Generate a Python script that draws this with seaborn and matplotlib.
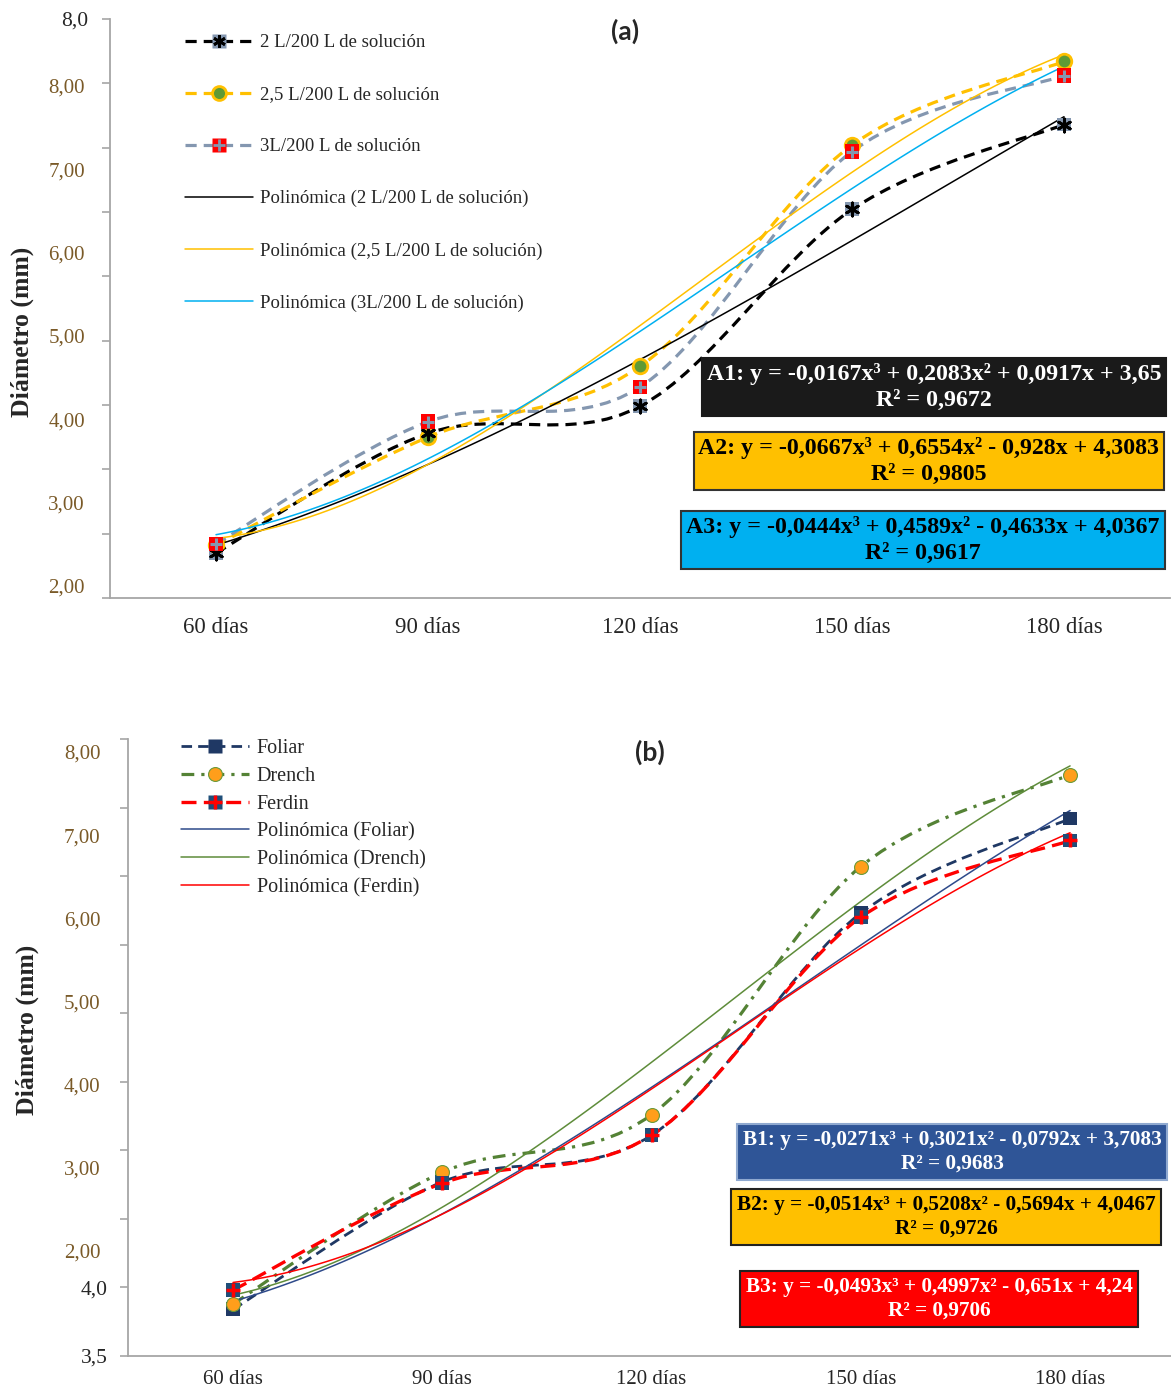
import numpy as np
import pandas as pd
import seaborn as sns
import matplotlib
matplotlib.use("Agg")
import matplotlib.pyplot as plt
from matplotlib.path import Path
from matplotlib.patches import PathPatch
from matplotlib.lines import Line2D

# ---- data (true axis 3,5 - 8,0) ----
days = ["60 días", "90 días", "120 días", "150 días", "180 días"]
sol_2 = [3.85, 4.78, 4.99, 6.52, 7.18]
sol_25 = [3.91, 4.75, 5.30, 7.02, 7.67]
sol_3 = [3.92, 4.87, 5.14, 6.97, 7.56]
foliar = [3.84, 4.77, 5.11, 6.73, 7.42]
drench = [3.88, 4.84, 5.26, 7.07, 7.74]
ferdin = [3.98, 4.76, 5.11, 6.70, 7.26]

names_a = ["2 L/200 L de solución", "2,5 L/200 L de solución", "3L/200 L de solución"]
names_b = ["Foliar", "Drench", "Ferdin"]

# labels pasted over the real axis in the original
fake_ticks = [2, 3, 4, 5, 6, 7, 8]
fake_labels = ["2,00", "3,00", "4,00", "5,00", "6,00", "7,00", "8,00"]
real_ticks = [3.5, 4.0, 4.5, 5.0, 5.5, 6.0, 6.5, 7.0, 7.5, 8.0]

eq_a = ["A1: y = -0,0167x³ + 0,2083x² + 0,0917x + 3,65\nR² = 0,9672",
        "A2: y = -0,0667x³ + 0,6554x² - 0,928x + 4,3083\nR² = 0,9805",
        "A3: y = -0,0444x³ + 0,4589x² - 0,4633x + 4,0367\nR² = 0,9617"]
eq_b = ["B1: y = -0,0271x³ + 0,3021x² - 0,0792x + 3,7083\nR² = 0,9683",
        "B2: y = -0,0514x³ + 0,5208x² - 0,5694x + 4,0467\nR² = 0,9726",
        "B3: y = -0,0493x³ + 0,4997x² - 0,651x + 4,24\nR² = 0,9706"]

df_a = pd.DataFrame({"pos": range(5), names_a[0]: sol_2, names_a[1]: sol_25, names_a[2]: sol_3})
df_b = pd.DataFrame({"pos": range(5), "Foliar": foliar, "Drench": drench, "Ferdin": ferdin})

sns.set_style("white")
plt.rcParams["font.family"] = ["Liberation Serif", "DejaVu Serif"]

W, H = 1171, 1392
fig = plt.figure(figsize=(W / 100, H / 100), dpi=100)
GREY = "#a6a6a6"


def smooth(ax, x, y, color, ls, lw, z=2):
    # excel-like smoothed line (catmull-rom as bezier) through the points
    p = np.column_stack([x, y]).astype(float)
    n = len(p)
    verts, codes = [p[0]], [Path.MOVETO]
    for i in range(n - 1):
        p0 = p[i - 1] if i > 0 else p[i]
        p3 = p[i + 2] if i + 2 < n else p[i + 1]
        verts += [p[i] + (p[i + 1] - p0) / 6, p[i + 1] - (p3 - p[i]) / 6, p[i + 1]]
        codes += [Path.CURVE4] * 3
    ax.add_patch(PathPatch(Path(verts, codes), fill=False, edgecolor=color,
                           linestyle=ls, lw=lw, zorder=z, capstyle="butt"))


def base_axes(rect, fake_lim, real_lab, fsz_x, pad_x, pad_real, pad_fake):
    ax = fig.add_axes(rect)
    ax.set_xlim(-0.5, 4.5)
    ax.set_ylim(3.5, 8.0)
    ax.set_xticks(range(5))
    ax.set_xticklabels(days, fontsize=fsz_x)
    ax.set_yticks(real_ticks)
    ax.set_yticklabels(real_lab, fontsize=15.5)
    ax.tick_params(axis="x", length=0, pad=pad_x)
    ax.tick_params(axis="y", length=6, width=1.2, color=GREY, direction="out", pad=pad_real)
    sns.despine(ax=ax)
    for s in ["left", "bottom"]:
        ax.spines[s].set_color(GREY)
        ax.spines[s].set_linewidth(1.3)
    ax.set_xlabel("")
    ax.set_ylabel("")
    # pasted colored scale
    axf = ax.twinx()
    axf.set_ylim(*fake_lim)
    axf.yaxis.set_ticks_position("left")
    axf.set_yticks(fake_ticks)
    axf.set_yticklabels(fake_labels, fontsize=15, color="#7a5a28")
    axf.tick_params(axis="y", length=0, pad=pad_fake)
    for s in axf.spines.values():
        s.set_visible(False)
    return ax


# ================= panel (a) =================
ax1 = base_axes([110 / W, 1 - 598 / H, 1060 / W, 579 / H], (1.856, 8.804),
                [""] * 9 + ["8,0"], 16.5, 14, 10, 18)

smooth(ax1, df_a.pos, df_a[names_a[0]], "black", (0, (3.5, 2.2)), 2.3)
smooth(ax1, df_a.pos, df_a[names_a[1]], "#ffc000", (0, (3.5, 2.2)), 2.3)
smooth(ax1, df_a.pos, df_a[names_a[2]], "#8497b0", (0, (3.5, 2.2)), 2.3)

trend_a = ["black", "#ffc000", "#00b0f0"]
for nm, c in zip(names_a, trend_a):
    sns.regplot(data=df_a, x="pos", y=nm, order=3, ci=None, scatter=False, truncate=True,
                line_kws=dict(color=c, lw=1.1, zorder=2.5), ax=ax1)

sns.scatterplot(data=df_a, x="pos", y=names_a[0], marker="s", s=100, color="#8497b0",
                edgecolor="none", ax=ax1, zorder=4)
ax1.scatter(df_a.pos, df_a[names_a[0]], marker=(6, 2, 0), s=90, color="black", lw=2, zorder=5)
sns.scatterplot(data=df_a, x="pos", y=names_a[1], marker="o", s=110, color="#5f9a35",
                edgecolor="#ffc000", linewidth=2, ax=ax1, zorder=4)
sns.scatterplot(data=df_a, x="pos", y=names_a[2], marker="s", s=110, color="#ff0000",
                edgecolor="none", ax=ax1, zorder=6)
ax1.scatter(df_a.pos, df_a[names_a[2]], marker="+", s=80, color="#8497b0", lw=2.2, zorder=7)
ax1.set_xlabel("")
ax1.set_ylabel("")

hs_a = [
    (Line2D([], [], color="black", ls=(0, (3.5, 2.2)), lw=2.3, marker="s", ms=10,
            mfc="#8497b0", mec="none"),
     Line2D([], [], ls="none", marker=(6, 2, 0), ms=9, color="black", mew=2)),
    Line2D([], [], color="#ffc000", ls=(0, (3.5, 2.2)), lw=2.3, marker="o", ms=10,
           mfc="#5f9a35", mec="#ffc000", mew=2),
    (Line2D([], [], color="#8497b0", ls=(0, (3.5, 2.2)), lw=2.3, marker="s", ms=10,
            mfc="#ff0000", mec="none"),
     Line2D([], [], ls="none", marker="+", ms=8, color="#8497b0", mew=2)),
    Line2D([], [], color="black", lw=1.1),
    Line2D([], [], color="#ffc000", lw=1.1),
    Line2D([], [], color="#00b0f0", lw=1.1),
]
lb_a = names_a + ["Polinómica (" + n + ")" for n in names_a]
ax1.legend(hs_a, lb_a, loc="upper left", bbox_to_anchor=(185 / W, 1 - 34 / H),
           bbox_transform=fig.transFigure, frameon=False, fontsize=13.5,
           handlelength=3.6, handletextpad=0.4, labelspacing=1.86, borderpad=0,
           borderaxespad=0)

fig.text(625 / W, 1 - 31 / H, "(a)", fontsize=19, fontweight="bold", family="Lato",
         ha="center", va="center")
fig.text(22 / W, 1 - 332 / H, "Diámetro (mm)", rotation=90, fontsize=18.5,
         fontweight="bold", ha="center", va="center")

box_a = [("#1a1a1a", "white", "#1a1a1a", (934, 387)),
         ("#ffc000", "black", "#333333", (929, 461)),
         ("#00b0f0", "black", "#333333", (923, 540))]
for t, (fc, tc, ec, (cx, cy)) in zip(eq_a, box_a):
    fig.text(cx / W, 1 - cy / H, t, fontsize=17.2, fontweight="bold", color=tc,
             ha="center", va="center", linespacing=1.33, multialignment="center",
             bbox=dict(boxstyle="square,pad=0.2", fc=fc, ec=ec, lw=1.5))

# ================= panel (b) =================
ax2 = base_axes([128.4 / W, 1 - 1356 / H, 1046.3 / W, 617 / H], (0.7375, 8.156),
                ["3,5", "4,0"] + [""] * 8, 15, 10, 9, 20)

smooth(ax2, df_b.pos, df_b.Foliar, "#1f3864", (0, (3.8, 2.2)), 2.0)
smooth(ax2, df_b.pos, df_b.Drench, "#548235", (0, (4, 2.2, 1, 2.2)), 2.3)
smooth(ax2, df_b.pos, df_b.Ferdin, "#ff0000", (0, (4.5, 2.2)), 2.4)

trend_b = ["#2e4a8a", "#5e8c3a", "#ff0000"]
for nm, c in zip(names_b, trend_b):
    sns.regplot(data=df_b, x="pos", y=nm, order=3, ci=None, scatter=False, truncate=True,
                line_kws=dict(color=c, lw=1.1, zorder=2.5), ax=ax2)

sns.scatterplot(data=df_b, x="pos", y="Foliar", marker="s", s=100, color="#1f3864",
                edgecolor="none", ax=ax2, zorder=4)
sns.scatterplot(data=df_b, x="pos", y="Drench", marker="o", s=100, color="#ff9e1b",
                edgecolor="#6a9a3a", linewidth=0.8, ax=ax2, zorder=5)
sns.scatterplot(data=df_b, x="pos", y="Ferdin", marker="s", s=100, color="#1f4e79",
                edgecolor="none", ax=ax2, zorder=6)
ax2.scatter(df_b.pos, df_b.Ferdin, marker="+", s=110, color="#ff0000", lw=2.5, zorder=7)
ax2.set_xlabel("")
ax2.set_ylabel("")

hs_b = [
    Line2D([], [], color="#1f3864", ls=(0, (3.8, 2.2)), lw=2.0, marker="s", ms=10,
           mfc="#1f3864", mec="none"),
    Line2D([], [], color="#548235", ls=(0, (4, 2.2, 1, 2.2)), lw=2.3, marker="o", ms=10,
           mfc="#ff9e1b", mec="#6a9a3a", mew=0.8),
    (Line2D([], [], color="#ff0000", ls=(0, (4.5, 2.2)), lw=2.4, marker="s", ms=10,
            mfc="#1f4e79", mec="none"),
     Line2D([], [], ls="none", marker="+", ms=10, color="#ff0000", mew=2.5)),
    Line2D([], [], color="#2e4a8a", lw=1.1),
    Line2D([], [], color="#5e8c3a", lw=1.1),
    Line2D([], [], color="#ff0000", lw=1.1),
]
lb_b = names_b + ["Polinómica (" + n + ")" for n in names_b]
ax2.legend(hs_b, lb_b, loc="upper left", bbox_to_anchor=(181 / W, 1 - 739 / H),
           bbox_transform=fig.transFigure, frameon=False, fontsize=14.5,
           handlelength=3.4, handletextpad=0.35, labelspacing=0.43, borderpad=0,
           borderaxespad=0)

fig.text(650 / W, 1 - 752 / H, "(b)", fontsize=19, fontweight="bold", family="Lato",
         ha="center", va="center")
fig.text(27 / W, 1 - 1030 / H, "Diámetro (mm)", rotation=90, fontsize=18.5,
         fontweight="bold", ha="center", va="center")

box_b = [("#2f5597", "white", "#8fa9d0", (952, 1152)),
         ("#ffc000", "black", "#222222", (946, 1217)),
         ("#ff0000", "white", "#222222", (939, 1299))]
for t, (fc, tc, ec, (cx, cy)) in zip(eq_b, box_b):
    fig.text(cx / W, 1 - cy / H, t, fontsize=15.3, fontweight="bold", color=tc,
             ha="center", va="center", linespacing=1.27, multialignment="center",
             bbox=dict(boxstyle="square,pad=0.28", fc=fc, ec=ec, lw=1.5))

fig.savefig("out.png", dpi=100)
